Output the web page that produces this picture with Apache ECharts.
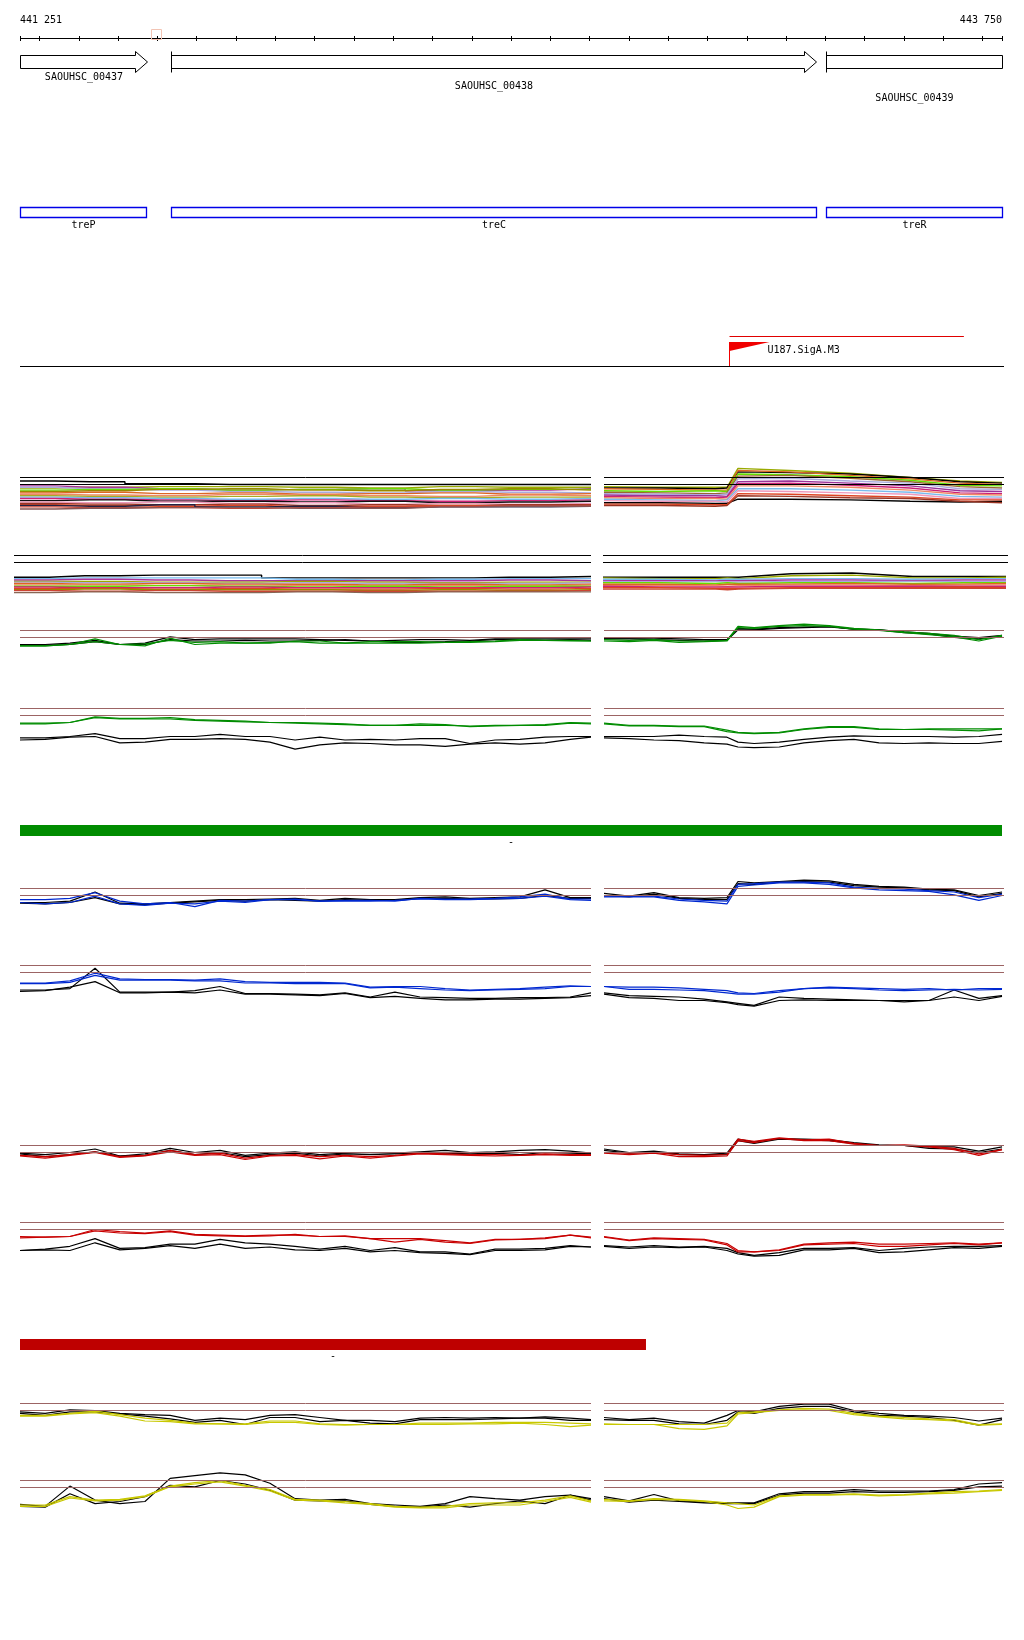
<!DOCTYPE html>
<html><head><meta charset="utf-8">
<script src="https://cdn.jsdelivr.net/npm/echarts@6/dist/echarts.min.js"></script>
<style>html,body{margin:0;padding:0;background:#fff}#c{width:1024px;height:1640px}</style>
</head><body><div id="c"></div>
<script>
// ---------------- DATA ----------------
const viewStart = 441251, viewEnd = 443750;
const tickPositions = [441251,441300,441400,441500,441600,441700,441800,441900,442000,442100,442200,442300,442400,442500,442600,442700,442800,442900,443000,443100,443200,443300,443400,443500,443600,443700,443750];
const markerPositions = [441600];
const geneNames = ['SAOUHSC_00437','SAOUHSC_00438','SAOUHSC_00439'];
const geneStarts = [441251, 441635, 443302];
const geneEnds = [441573, 443277, 443750];
const operonNames = ['treP','treC','treR'];
const operonStarts = [441251, 441634, 443302];
const operonEnds = [441572, 443277, 443750];
const promoterNames = ['U187.SigA.M3'];
const promoterStarts = [443055];
const promoterEnds = [443653];
const greenRegionStarts = [441251], greenRegionEnds = [443750], greenRegionLabels = ['-'];
const redRegionStarts = [441251], redRegionEnds = [442844], redRegionLabels = ['-'];

// probe positions (bp)
const posL = [441251,441315,441378,441442,441505,441569,441633,441696,441760,441824,441887,441951,442014,442078,442142,442205,442269,442333,442396,442460,442523,442587,442651,442704];
const posR = [442737,442801,442864,442928,442992,443050,443078,443119,443183,443246,443310,443373,443437,443501,443564,443628,443691,443750];
const posAL = [441251,441429,441607,441785,441964,442142,442320,442498,442704];
const posAR = [442737,442880,443020,443050,443078,443210,443363,443516,443643,443750];

// ---- multi-condition tracks (group A) ----
const aULColors = ['#000000','#99aa00','#aa3399','#aaaadd','#66dd00','#998800','#dd6622','#ee8866','#aaaa22','#77bbee','#cc2277','#111111','#ee99bb','#993322','#dd4422','#222244','#cc4433','#885555'];
const aUL = [
 [0.5,0.4,0.1,0,0,0,0,0,0],
 [-0.5,-0.4,-0.3,-0.3,-0.4,-0.5,-0.3,-0.4,-0.4],
 [-0.2,-0.4,-0.6,-0.8,-0.7,-0.6,-0.9,-0.8,-0.6],
 [-0.4,-0.6,-0.8,-1.0,-1.1,-1.2,-1.0,-1.1,-1.2],
 [-0.8,-0.7,-0.6,-0.8,-0.7,-0.6,-0.8,-0.7,-0.7],
 [-1.0,-0.9,-0.7,-0.6,-0.8,-0.9,-0.7,-0.6,-0.8],
 [-1.2,-1.1,-1.3,-1.2,-1.4,-1.3,-1.2,-1.4,-1.3],
 [-1.4,-1.5,-1.6,-1.4,-1.5,-1.6,-1.7,-1.5,-1.6],
 [-1.6,-1.7,-1.8,-1.7,-1.6,-1.8,-1.9,-1.8,-1.8],
 [-1.8,-1.9,-2.0,-2.1,-2.0,-2.1,-2.0,-2.1,-2.0],
 [-2.0,-2.1,-2.2,-2.3,-2.2,-2.3,-2.4,-2.3,-2.2],
 [-2.3,-2.2,-2.4,-2.4,-2.5,-2.4,-2.6,-2.5,-2.4],
 [-2.5,-2.6,-2.5,-2.7,-2.6,-2.8,-2.7,-2.8,-2.7],
 [-2.7,-2.8,-2.9,-2.8,-3.0,-2.9,-3.0,-2.9,-2.9],
 [-2.9,-3.0,-3.1,-3.0,-3.2,-3.1,-3.0,-3.1,-3.0],
 [-3.0,-3.1,-2.9,-3.2,-3.1,-3.3,-3.2,-3.2,-3.1],
 [-3.2,-3.3,-3.3,-3.4,-3.3,-3.2,-3.1,-3.0,-3.0],
 [-3.5,-3.4,-3.3,-3.3,-3.4,-3.4,-3.2,-3.1,-3.1]
];
const aURColors = ['#99aa00','#000000','#dd6622','#66dd00','#996633','#aaaadd','#993399','#cc2277','#ee8866','#77bbee','#ee99bb','#000000','#dd4422','#993322'];
const aUR = [
 [-0.3,-0.4,-0.4,-0.4,2.3,2.0,1.6,1.0,0.5,0.3],
 [-0.5,-0.5,-0.6,-0.5,1.8,1.7,1.5,1.0,0.4,0.2],
 [-0.6,-0.7,-0.8,-0.8,2.0,1.8,1.3,0.8,0.2,0.0],
 [-0.9,-1.0,-0.9,-1.0,1.5,1.4,1.1,0.6,-0.1,-0.2],
 [-1.1,-1.2,-1.3,-1.2,1.2,1.3,0.9,0.4,-0.3,-0.5],
 [-1.3,-1.4,-1.5,-1.4,0.8,0.9,0.5,0.2,-0.6,-0.7],
 [-1.5,-1.6,-1.6,-1.7,0.4,0.5,0.2,-0.2,-0.9,-1.0],
 [-1.7,-1.8,-1.9,-1.8,0.1,0.2,-0.1,-0.5,-1.2,-1.3],
 [-1.9,-2.0,-2.0,-2.1,-0.2,-0.2,-0.4,-0.8,-1.4,-1.5],
 [-2.1,-2.2,-2.3,-2.2,-0.6,-0.6,-0.8,-1.1,-1.7,-1.8],
 [-2.3,-2.4,-2.4,-2.5,-0.9,-1.0,-1.2,-1.4,-2.0,-2.0],
 [-2.6,-2.6,-2.7,-2.7,-2.1,-2.1,-2.2,-2.4,-2.5,-2.4],
 [-2.8,-2.8,-2.9,-2.9,-1.3,-1.4,-1.6,-1.8,-2.2,-2.2],
 [-3.0,-3.0,-3.1,-3.0,-1.6,-1.7,-1.9,-2.0,-2.4,-2.6]
];
const aLLColors = ['#000000','#77bbee','#aa3399','#99aa00','#aaaadd','#dd6622','#ee8866','#66dd00','#cc2277','#dd4422','#998800','#cc4433','#886655'];
const aLL = [
 [-2.1,-1.9,-1.8,-1.8,-2.2,-2.2,-2.2,-2.1,-2.0],
 [-2.3,-2.2,-2.2,-2.2,-2.4,-2.5,-2.4,-2.3,-2.3],
 [-2.5,-2.4,-2.5,-2.6,-2.6,-2.6,-2.6,-2.5,-2.6],
 [-2.7,-2.7,-2.8,-2.8,-2.7,-2.8,-2.9,-2.8,-2.8],
 [-2.8,-2.9,-2.9,-3.0,-2.9,-3.0,-3.0,-3.0,-2.9],
 [-3.0,-3.1,-3.0,-3.1,-3.1,-3.2,-3.1,-3.2,-3.1],
 [-3.2,-3.2,-3.3,-3.2,-3.3,-3.3,-3.3,-3.3,-3.2],
 [-3.4,-3.4,-3.3,-3.4,-3.5,-3.4,-3.5,-3.4,-3.4],
 [-3.5,-3.6,-3.6,-3.5,-3.6,-3.6,-3.6,-3.6,-3.5],
 [-3.7,-3.7,-3.8,-3.7,-3.8,-3.8,-3.7,-3.8,-3.7],
 [-3.9,-3.8,-3.9,-3.9,-3.9,-4.0,-3.9,-4.0,-3.9],
 [-4.0,-4.1,-4.0,-4.1,-4.1,-4.1,-4.1,-4.1,-4.0],
 [-4.3,-4.2,-4.3,-4.3,-4.2,-4.3,-4.2,-4.2,-4.2]
];
const aLRColors = ['#000000','#99aa00','#77bbee','#aa3399','#aaaadd','#66dd00','#dd6622','#ee8866','#cc2277','#dd4422','#cc4433'];
const aLR = [
 [-2.1,-2.1,-2.1,-2.1,-2.1,-1.6,-1.5,-2.0,-2.0,-2.0],
 [-2.2,-2.3,-2.3,-2.2,-2.3,-1.9,-1.8,-2.2,-2.2,-2.1],
 [-2.4,-2.4,-2.5,-2.4,-2.4,-2.3,-2.3,-2.4,-2.3,-2.3],
 [-2.6,-2.6,-2.6,-2.6,-2.6,-2.5,-2.5,-2.6,-2.5,-2.5],
 [-2.7,-2.8,-2.7,-2.8,-2.8,-2.7,-2.7,-2.7,-2.7,-2.7],
 [-2.9,-2.9,-3.0,-2.9,-3.0,-2.9,-2.9,-3.0,-2.9,-2.9],
 [-3.1,-3.1,-3.2,-3.1,-3.1,-3.1,-3.0,-3.1,-3.1,-3.0],
 [-3.3,-3.3,-3.3,-3.4,-3.3,-3.2,-3.2,-3.3,-3.2,-3.2],
 [-3.4,-3.5,-3.5,-3.5,-3.5,-3.4,-3.4,-3.4,-3.4,-3.4],
 [-3.6,-3.6,-3.7,-3.7,-3.7,-3.6,-3.6,-3.6,-3.5,-3.6],
 [-3.8,-3.8,-3.8,-3.9,-3.8,-3.7,-3.7,-3.7,-3.7,-3.7]
];

// ---- replicate tracks: [black1, black2, colour1, colour2] ----
const gUL = [
 [-1.0,-1.0,-0.8,-0.4,-1.0,-0.8, 0.1,-0.3,-0.2,-0.2,-0.2,-0.2, -0.3,-0.4,-0.5,-0.4,-0.3,-0.3, -0.4,-0.2,-0.2,-0.2,-0.2,-0.2],
 [-1.1,-1.1,-1.0,-0.6,-1.0,-1.0, -0.3,-0.5,-0.5,-0.4,-0.5,-0.5, -0.4,-0.3,-0.5,-0.7,-0.7,-0.6, -0.5,-0.3,-0.3,-0.4,-0.3,-0.4],
 [-1.2,-1.2,-1.0,-0.2,-1.0,-1.2, -0.1,-1.0,-0.8,-0.8,-0.7,-0.6, -0.8,-0.8,-0.8,-0.8,-0.8,-0.7, -0.6,-0.5,-0.3,-0.4,-0.4,-0.5],
 [-1.2,-1.2,-1.0,-0.6,-1.0,-0.9, -0.4,-0.7,-0.6,-0.8,-0.8,-0.5, -0.5,-0.8,-0.6,-0.6,-0.6,-0.7, -0.7,-0.6,-0.4,-0.4,-0.5,-0.5]
];
const gLL = [
 [-3.2,-3.2,-3.0,-2.6,-3.3,-3.3, -3.0,-3.0,-2.7,-3.0,-3.0,-3.5, -3.1,-3.5,-3.4,-3.5,-3.3,-3.3, -4.0,-3.5,-3.4,-3.1,-3.0,-3.0],
 [-3.5,-3.4,-3.1,-3.0,-3.9,-3.8, -3.4,-3.4,-3.3,-3.4,-3.8,-4.8, -4.2,-3.9,-4.0,-4.2,-4.2,-4.4, -4.1,-3.9,-4.1,-3.9,-3.4,-3.1],
 [-1.1,-1.1,-1.0,-0.2,-0.4,-0.4, -0.3,-0.6,-0.7,-0.8,-1.0,-1.0, -1.1,-1.2,-1.4,-1.4,-1.4,-1.4, -1.5,-1.4,-1.4,-1.3,-1.0,-1.1],
 [-1.2,-1.2,-1.0,-0.3,-0.5,-0.5, -0.5,-0.7,-0.8,-0.9,-1.0,-1.1, -1.2,-1.3,-1.4,-1.4,-1.2,-1.3, -1.6,-1.5,-1.4,-1.4,-1.1,-1.2]
];
const gUR = [
 [-0.1,-0.1,-0.1,-0.2,-0.3,-0.3, 1.3,1.2,1.4,1.5,1.6,1.2, 1.1,0.8,0.6,0.2,0.0,0.3],
 [-0.2,-0.2,-0.3,-0.4,-0.5,-0.4, 1.1,1.1,1.3,1.4,1.5,1.2, 1.1,0.7,0.5,0.0,-0.2,0.2],
 [-0.3,-0.4,-0.3,-0.5,-0.5,-0.4, 1.6,1.4,1.7,1.9,1.7,1.3, 1.1,0.8,0.6,0.3,-0.3,0.3],
 [-0.5,-0.6,-0.4,-0.7,-0.6,-0.5, 1.4,1.3,1.6,1.7,1.6,1.2, 1.0,0.7,0.4,0.1,-0.5,0.2]
];
const gLR = [
 [-3.0,-3.0,-3.0,-2.8,-3.0,-3.1, -3.8,-4.0,-3.8,-3.4,-3.1,-2.9, -3.0,-3.0,-3.0,-3.1,-3.0,-2.7],
 [-3.2,-3.3,-3.5,-3.6,-3.9,-4.1, -4.5,-4.6,-4.5,-3.9,-3.6,-3.4, -3.9,-4.0,-3.9,-4.0,-4.0,-3.7],
 [-1.1,-1.4,-1.4,-1.5,-1.5,-2.1, -2.4,-2.5,-2.4,-1.9,-1.6,-1.6, -1.9,-2.0,-1.9,-1.9,-1.9,-1.9],
 [-1.2,-1.5,-1.5,-1.6,-1.6,-2.3, -2.5,-2.6,-2.5,-2.0,-1.7,-1.7, -2.0,-2.0,-2.0,-2.1,-2.2,-1.9]
];
const bUL = [
 [-1.0,-1.0,-0.8,0.5,-1.1,-1.2, -1.0,-0.8,-0.6,-0.6,-0.5,-0.4, -0.7,-0.4,-0.6,-0.6,-0.3,-0.2, -0.4,-0.3,-0.2,0.8,-0.3,-0.3],
 [-1.1,-1.2,-1.0,-0.3,-1.2,-1.3, -1.1,-0.9,-0.7,-0.8,-0.6,-0.7, -0.8,-0.6,-0.7,-0.7,-0.4,-0.4, -0.5,-0.5,-0.4,0.0,-0.4,-0.4],
 [-0.6,-0.6,-0.4,0.4,-0.8,-1.2, -1.0,-1.6,-0.7,-0.8,-0.6,-0.5, -0.8,-0.7,-0.7,-0.8,-0.4,-0.5, -0.5,-0.4,-0.2,0.2,-0.5,-0.5],
 [-1.0,-1.2,-1.0,-0.1,-1.2,-1.4, -1.1,-1.2,-0.8,-1.0,-0.6,-0.6, -0.8,-0.8,-0.8,-0.7,-0.5,-0.6, -0.6,-0.5,-0.4,-0.1,-0.6,-0.7]
];
const bLL = [
 [-2.5,-2.5,-2.3,0.6,-2.8,-2.8, -2.8,-2.6,-2.0,-3.0,-3.0,-3.1, -3.2,-2.9,-3.5,-2.8,-3.5,-3.6, -3.7,-3.7,-3.6,-3.6,-3.5,-2.9],
 [-2.7,-2.6,-2.1,-1.3,-2.9,-2.9, -2.8,-2.9,-2.5,-3.1,-3.1,-3.2, -3.3,-3.0,-3.6,-3.4,-3.7,-3.9, -3.9,-3.8,-3.8,-3.7,-3.6,-3.3],
 [-1.5,-1.5,-1.2,-0.1,-0.9,-1.0, -1.0,-1.1,-0.9,-1.3,-1.4,-1.4, -1.4,-1.5,-2.1,-2.0,-2.0,-2.3, -2.5,-2.4,-2.3,-2.1,-1.9,-2.0],
 [-1.6,-1.6,-1.4,-0.4,-1.1,-1.1, -1.1,-1.2,-1.2,-1.5,-1.5,-1.6, -1.6,-1.6,-2.2,-2.1,-2.3,-2.5, -2.6,-2.5,-2.4,-2.3,-2.0,-2.0]
];
const bUR = [
 [0.3,-0.1,0.4,-0.3,-0.4,-0.3, 2.0,1.8,2.0,2.2,2.1,1.6, 1.3,1.2,0.9,0.8,0.0,0.5],
 [0.0,-0.2,0.2,-0.4,-0.6,-0.6, 1.7,1.6,1.9,2.0,1.9,1.4, 1.2,1.1,0.8,0.7,-0.2,0.3],
 [-0.1,-0.1,-0.1,-0.5,-0.7,-0.8, 1.6,1.7,1.9,1.9,1.8,1.2, 1.0,0.9,0.7,0.5,-0.3,0.2],
 [-0.2,-0.2,-0.2,-0.7,-0.9,-1.2, 1.3,1.5,1.8,1.8,1.6,1.1, 0.8,0.7,0.6,0.1,-0.7,0.0]
];
const bLR = [
 [-2.9,-3.3,-3.4,-3.5,-3.8,-4.2, -4.4,-4.7,-3.5,-3.7,-3.8,-3.9, -4.0,-4.0,-4.0,-2.5,-3.7,-3.3],
 [-3.1,-3.6,-3.7,-4.0,-4.0,-4.3, -4.6,-4.8,-4.0,-3.9,-4.0,-4.0, -4.0,-4.2,-4.0,-3.5,-4.0,-3.4],
 [-2.0,-2.1,-2.1,-2.2,-2.4,-2.6, -2.9,-3.0,-2.6,-2.3,-2.1,-2.2, -2.3,-2.4,-2.3,-2.5,-2.3,-2.3],
 [-2.0,-2.4,-2.4,-2.5,-2.6,-2.9, -3.1,-3.1,-2.8,-2.3,-2.2,-2.3, -2.5,-2.6,-2.5,-2.4,-2.5,-2.4]
];
const rUL = [
 [-0.1,-0.3,0.0,0.5,-0.5,-0.2, 0.6,0.0,0.3,-0.4,-0.1,0.1, -0.3,-0.1,0.0,-0.1,0.1,0.3, 0.0,0.1,0.3,0.4,0.2,-0.1],
 [-0.2,-0.6,-0.3,0.1,-0.5,-0.4, 0.3,-0.3,0.0,-0.6,-0.3,-0.1, -0.5,-0.2,-0.3,-0.2,-0.1,-0.1, -0.2,-0.1,-0.3,0.0,-0.1,-0.2],
 [-0.4,-0.6,-0.3,0.1,-0.6,-0.4, 0.3,-0.3,-0.1,-0.8,-0.4,-0.3, -0.6,-0.4,-0.6,-0.4,-0.1,-0.2, -0.3,-0.3,-0.4,-0.2,-0.3,-0.3],
 [-0.5,-0.8,-0.4,0.0,-0.7,-0.5, 0.1,-0.4,-0.3,-1.0,-0.5,-0.4, -0.9,-0.5,-0.8,-0.5,-0.2,-0.3, -0.4,-0.5,-0.4,-0.3,-0.4,-0.4]
];
const rLL = [
 [-3.0,-2.8,-2.4,-1.3,-2.7,-2.6, -2.1,-2.1,-1.4,-1.9,-2.1,-2.4, -2.8,-2.4,-3.0,-2.6,-3.2,-3.2, -3.5,-2.8,-2.8,-2.7,-2.3,-2.5],
 [-3.0,-2.9,-3.0,-1.9,-2.9,-2.7, -2.3,-2.7,-2.1,-2.7,-2.5,-2.9, -3.0,-2.7,-3.2,-3.0,-3.3,-3.4, -3.6,-3.0,-3.0,-2.9,-2.4,-2.5],
 [-1.0,-1.1,-1.0,0.0,-0.3,-0.5, -0.2,-0.7,-0.8,-0.9,-0.8,-0.8, -1.0,-0.9,-1.3,-1.3,-1.3,-1.6, -1.9,-1.4,-1.4,-1.2,-0.8,-1.1],
 [-1.2,-1.1,-1.0,-0.2,-0.5,-0.6, -0.3,-0.8,-0.9,-1.0,-0.9,-0.7, -1.0,-1.0,-1.3,-1.8,-1.4,-1.8, -2.0,-1.5,-1.4,-1.3,-0.8,-1.2]
];
const rUR = [
 [0.5,0.0,0.2,-0.2,-0.3,-0.1, 1.9,1.5,2.0,1.9,1.8,1.4, 1.1,1.0,0.8,0.8,0.2,0.8],
 [0.3,-0.1,0.1,-0.3,-0.3,-0.3, 1.7,1.3,1.9,1.8,1.7,1.3, 1.0,1.0,0.6,0.5,0.0,0.5],
 [0.0,-0.1,0.0,-0.3,-0.4,-0.3, 1.9,1.6,2.1,1.8,1.9,1.3, 1.0,1.1,0.9,0.6,-0.2,0.4],
 [-0.1,-0.3,-0.1,-0.6,-0.6,-0.5, 1.7,1.4,2.0,1.7,1.7,1.2, 1.0,1.0,0.8,0.4,-0.4,0.4]
];
const rLR = [
 [-2.3,-2.5,-2.3,-2.5,-2.4,-2.7, -3.3,-3.7,-3.3,-2.7,-2.7,-2.6, -3.0,-2.7,-2.5,-2.4,-2.4,-2.3],
 [-2.4,-2.7,-2.5,-2.6,-2.5,-3.0, -3.5,-3.8,-3.7,-2.9,-2.9,-2.7, -3.3,-3.2,-2.9,-2.6,-2.7,-2.4],
 [-1.0,-1.5,-1.2,-1.3,-1.4,-2.0, -3.0,-3.2,-2.9,-2.1,-1.9,-1.8, -2.1,-2.1,-2.0,-1.9,-2.1,-1.9],
 [-1.1,-1.6,-1.3,-1.4,-1.5,-2.2, -3.2,-3.2,-3.0,-2.2,-2.1,-2.0, -2.4,-2.4,-2.2,-2.0,-2.2,-1.9]
];
const yUL = [
 [-0.2,-0.4,0.1,0.0,-0.4,-0.6, -0.7,-1.4,-1.1,-1.3,-0.7,-0.6, -1.0,-1.4,-1.4,-1.6,-1.1,-1.0, -1.1,-1.0,-1.1,-0.9,-1.1,-1.3],
 [-0.4,-0.7,-0.2,-0.2,-0.5,-0.8, -1.2,-1.7,-1.4,-2.0,-1.0,-1.0, -1.6,-1.4,-1.8,-1.9,-1.3,-1.3, -1.3,-1.2,-1.1,-1.1,-1.4,-1.4],
 [-0.7,-0.7,-0.4,-0.1,-0.6,-1.1, -1.4,-1.8,-1.9,-1.9,-1.5,-1.5, -1.9,-2.0,-2.0,-2.0,-1.8,-1.8, -1.8,-1.7,-1.7,-1.7,-1.8,-1.9],
 [-0.8,-0.8,-0.5,-0.3,-0.8,-1.5, -1.6,-1.9,-1.9,-2.0,-1.7,-1.7, -2.0,-2.1,-2.0,-2.0,-2.0,-2.0, -1.9,-1.9,-1.8,-2.0,-2.3,-2.1]
];
const yLL = [
 [-2.4,-2.7,0.2,-1.8,-2.3,-2.0, 1.3,1.7,2.1,1.8,0.6,-1.6, -1.8,-1.7,-2.3,-2.5,-2.7,-2.3, -1.3,-1.6,-1.8,-1.3,-1.1,-1.6],
 [-2.7,-2.8,-0.9,-2.3,-2.0,-1.3, 0.3,0.1,1.0,0.5,-0.4,-1.8, -1.9,-1.9,-2.4,-2.7,-2.8,-2.5, -2.8,-2.3,-1.9,-2.3,-1.1,-1.8],
 [-2.5,-2.5,-1.3,-1.8,-1.7,-1.2, 0.2,0.7,1.0,0.3,-0.3,-1.7, -1.8,-2.0,-2.3,-2.7,-2.8,-2.7, -2.3,-2.2,-2.2,-1.8,-1.2,-1.9],
 [-2.7,-2.7,-1.5,-1.9,-1.8,-1.3, 0.1,0.5,0.8,0.2,-0.5,-1.8, -1.9,-2.2,-2.4,-2.8,-2.9,-2.9, -2.5,-2.5,-2.5,-2.0,-1.4,-2.1]
];
const yUR = [
 [-1.0,-1.3,-1.1,-1.6,-1.8,-0.7, 0.0,-0.2,0.6,0.9,0.9,0.0, -0.4,-0.7,-0.8,-1.0,-1.5,-1.1],
 [-1.3,-1.4,-1.4,-1.9,-2.0,-1.4, -0.2,-0.4,0.3,0.6,0.6,-0.2, -0.7,-0.8,-1.0,-1.4,-2.1,-1.3],
 [-1.9,-2.0,-2.0,-2.0,-2.0,-1.8, -0.3,-0.2,0.1,0.3,0.2,-0.4, -0.8,-1.0,-1.2,-1.3,-2.0,-1.9],
 [-2.0,-2.0,-2.0,-2.6,-2.7,-2.2, -0.5,-0.3,0.0,0.1,0.0,-0.6, -0.9,-1.2,-1.3,-1.5,-2.1,-2.0]
];
const yLR = [
 [-1.3,-1.9,-1.0,-1.9,-2.1,-2.2, -2.2,-2.2,-0.9,-0.6,-0.6,-0.3, -0.5,-0.5,-0.5,-0.3,0.5,0.7],
 [-1.6,-2.1,-1.8,-2.0,-2.2,-2.3, -2.3,-2.3,-1.1,-0.8,-0.8,-0.6, -0.7,-0.7,-0.6,-0.4,0.1,0.2],
 [-1.7,-1.9,-1.6,-1.7,-1.9,-2.2, -2.3,-2.5,-1.2,-1.0,-1.0,-0.9, -1.1,-1.0,-0.8,-0.6,-0.5,-0.3],
 [-1.9,-2.0,-1.7,-1.8,-2.0,-2.5, -3.0,-2.8,-1.3,-1.1,-1.1,-1.0, -1.2,-1.1,-0.9,-0.8,-0.6,-0.4]
];

// ---------------- LAYOUT / STYLE ----------------
const FONT = '10px "DejaVu Sans Mono", monospace';
const BROWN = '#9c6464', GREEN = '#008c00', BLUE = '#0028d0', RED = '#c80000', YELLOW = '#c8c800';
const LAY = {scaleY:38.5, tickHalf:2.5, numY:20, geneY:62, geneH:13, headH:21, headL:12, geneLabelY:[77,86,98],
  operonTop:207.5, operonH:10, operonLabelY:225, promLineY:336.5, flagTop:342, flagBottom:366, flagW:40, flagH:9,
  promLabelDx:38, promLabelY:350, sepY:366.5, greenBarTop:825, redBarTop:1339, barH:11, barLabelDy:17};

const grids = [], xAxes = [], yAxes = [], series = [];
grids.push({left:20, top:0, width:982, height:1640});
xAxes.push({gridIndex:0, type:'value', min:viewStart, max:viewEnd, show:false});
yAxes.push({gridIndex:0, type:'value', min:0, max:1, show:false});
const X = (api, v) => api.coord([v, 0])[0];
const fmt = n => String(n).replace(/\B(?=(\d{3})+(?!\d))/g, ' ');
function txt(text, x, y, align, fill) {
  return {type:'text', style:{text, x, y, align, textAlign:align, verticalAlign:'middle', textVerticalAlign:'middle', font:FONT, fill:fill||'#000'}};
}
function custom(data, renderItem) {
  series.push({type:'custom', xAxisIndex:0, yAxisIndex:0, data, renderItem, silent:true, animation:false, clip:false, z:3});
}

// scale
custom([[viewStart, viewEnd]], (p, api) => {
  const x0 = X(api, api.value(0)), x1 = X(api, api.value(1));
  return {type:'group', children:[
    {type:'line', shape:{x1:x0, y1:LAY.scaleY, x2:x1, y2:LAY.scaleY}, style:{stroke:'#000', lineWidth:1}},
    txt(fmt(api.value(0)), x0, LAY.numY, 'left'),
    txt(fmt(api.value(1)), x1, LAY.numY, 'right')
  ]};
});
custom(tickPositions.map(t => [t]), (p, api) => {
  const x = Math.round(X(api, api.value(0))) + 0.5;
  return {type:'line', shape:{x1:x, y1:LAY.scaleY - LAY.tickHalf, x2:x, y2:LAY.scaleY + LAY.tickHalf}, style:{stroke:'#000', lineWidth:1}};
});
custom(markerPositions.map(t => [t]), (p, api) => {
  const x = Math.round(X(api, api.value(0)));
  return {type:'rect', shape:{x:x - 5.5, y:29.5, width:10, height:10}, style:{fill:'none', stroke:'#f2c4b4', lineWidth:1}};
});
// genes
custom(geneStarts.map((s, i) => [s, geneEnds[i], i]), (p, api) => {
  const s = api.value(0), e = api.value(1), i = api.value(2);
  const xs = Math.round(X(api, s)) + 0.5, xe = Math.round(X(api, e)) + 0.5;
  const yc = LAY.geneY, t = yc - LAY.geneH / 2, b = yc + LAY.geneH / 2;
  let pts;
  if (e < viewEnd) {
    const hx = xe - LAY.headL;
    pts = [[xs,t],[hx,t],[hx,yc - LAY.headH/2],[xe,yc],[hx,yc + LAY.headH/2],[hx,b],[xs,b]];
  } else pts = [[xs,t],[xe,t],[xe,b],[xs,b]];
  const ch = [{type:'polygon', shape:{points:pts}, style:{fill:'#fff', stroke:'#000', lineWidth:1}}];
  if (s > viewStart) ch.push({type:'line', shape:{x1:xs, y1:yc - LAY.headH/2, x2:xs, y2:yc + LAY.headH/2}, style:{stroke:'#000', lineWidth:1}});
  ch.push(txt(geneNames[i], (xs + xe) / 2, LAY.geneLabelY[i], 'center'));
  return {type:'group', children:ch};
});
// operons
custom(operonStarts.map((s, i) => [s, operonEnds[i], i]), (p, api) => {
  const xs = Math.round(X(api, api.value(0))) + 0.5, xe = Math.round(X(api, api.value(1))) + 0.5;
  return {type:'group', children:[
    {type:'rect', shape:{x:xs, y:LAY.operonTop, width:xe - xs, height:LAY.operonH}, style:{fill:'none', stroke:'#0000e8', lineWidth:1.3}},
    txt(operonNames[api.value(2)], (xs + xe) / 2, LAY.operonLabelY, 'center')
  ]};
});
// promoter
custom(promoterStarts.map((s, i) => [s, promoterEnds[i], i]), (p, api) => {
  const xs = Math.round(X(api, api.value(0))) + 0.5, xe = X(api, api.value(1));
  return {type:'group', children:[
    {type:'line', shape:{x1:xs, y1:LAY.promLineY, x2:xe, y2:LAY.promLineY}, style:{stroke:'#e00000', lineWidth:1}},
    {type:'line', shape:{x1:xs, y1:LAY.flagTop, x2:xs, y2:LAY.flagBottom}, style:{stroke:'#f00000', lineWidth:1}},
    {type:'polygon', shape:{points:[[xs,LAY.flagTop],[xs + LAY.flagW,LAY.flagTop],[xs,LAY.flagTop + LAY.flagH]]}, style:{fill:'#f00000'}},
    txt(promoterNames[api.value(2)], xs + LAY.promLabelDx, LAY.promLabelY, 'left')
  ]};
});
// condition regions
function regionSeries(starts, ends, labels, top, color) {
  custom(starts.map((s, i) => [s, ends[i], i]), (p, api) => {
    const xs = X(api, api.value(0)), xe = X(api, api.value(1));
    return {type:'group', children:[
      {type:'rect', shape:{x:xs, y:top, width:xe - xs, height:LAY.barH}, style:{fill:color}},
      txt(labels[api.value(2)], (xs + xe) / 2, top + LAY.barLabelDy, 'center')
    ]};
  });
}
regionSeries(greenRegionStarts, greenRegionEnds, greenRegionLabels, LAY.greenBarTop, '#008c00');
regionSeries(redRegionStarts, redRegionEnds, redRegionLabels, LAY.redBarTop, '#be0000');

// data tracks
const L_MIN = 441251, L_MAX = 442704, R_MIN = 442737, R_MAX = 443755;
function addTrack(left, width, B, xMin, xMax, pos, lines, colors, refColor, lw, step) {
  const gi = grids.length;
  grids.push({left, top:B - 28, width, height:70});
  xAxes.push({gridIndex:gi, type:'value', min:xMin, max:xMax, show:false});
  yAxes.push({gridIndex:gi, type:'value', min:-6, max:4, show:false});
  lines.forEach((vals, j) => {
    const s = {type:'line', xAxisIndex:gi, yAxisIndex:gi, data:pos.map((p, i) => [p, vals[i]]),
      symbol:'none', showSymbol:false, smooth:false, step:step || false, silent:true, animation:false,
      lineStyle:{color:colors[j], width:lw}, emphasis:{disabled:true}, z:2};
    if (j === 0) s.markLine = {silent:true, symbol:'none', animation:false, label:{show:false},
      lineStyle:{color:refColor, width:1, type:'solid'}, emphasis:{disabled:true}, data:[{yAxis:1},{yAxis:0}]};
    series.push(s);
  });
}
const K = '#000000';
addTrack(20, 571, 484.5, L_MIN, L_MAX, posAL, aUL, aULColors, K, 1.4, 'middle');
addTrack(604, 400, 484.5, R_MIN, R_MAX, posAR, aUR, aURColors, K, 1.4);
addTrack(14, 577, 562.5, L_MIN, L_MAX, posAL, aLL, aLLColors, K, 1.4, 'middle');
addTrack(603, 405, 562.5, R_MIN, R_MAX, posAR, aLR, aLRColors, K, 1.4);
const tracks = [
  [gUL, gUR, gLL, gLR, GREEN, 637.5, 715.5],
  [bUL, bUR, bLL, bLR, BLUE, 895.5, 972.5],
  [rUL, rUR, rLL, rLR, RED, 1152.5, 1229.5],
  [yUL, yUR, yLL, yLR, YELLOW, 1410.5, 1487.5]
];
tracks.forEach(([ul, ur, ll, lr, col, bu, bl]) => {
  const cols = [K, K, col, col];
  addTrack(20, 571, bu, L_MIN, L_MAX, posL, ul, cols, BROWN, 1.2);
  addTrack(604, 400, bu, R_MIN, R_MAX, posR, ur, cols, BROWN, 1.2);
  addTrack(20, 571, bl, L_MIN, L_MAX, posL, ll, cols, BROWN, 1.2);
  addTrack(604, 400, bl, R_MIN, R_MAX, posR, lr, cols, BROWN, 1.2);
});

const chart = echarts.init(document.getElementById('c'), null, {renderer:'canvas'});
chart.setOption({
  animation:false,
  backgroundColor:'#fff',
  grid:grids, xAxis:xAxes, yAxis:yAxes, series,
  graphic:[{type:'line', silent:true, shape:{x1:20, y1:LAY.sepY, x2:1004, y2:LAY.sepY}, style:{stroke:'#000', lineWidth:1.2}}]
});
</script></body></html>
